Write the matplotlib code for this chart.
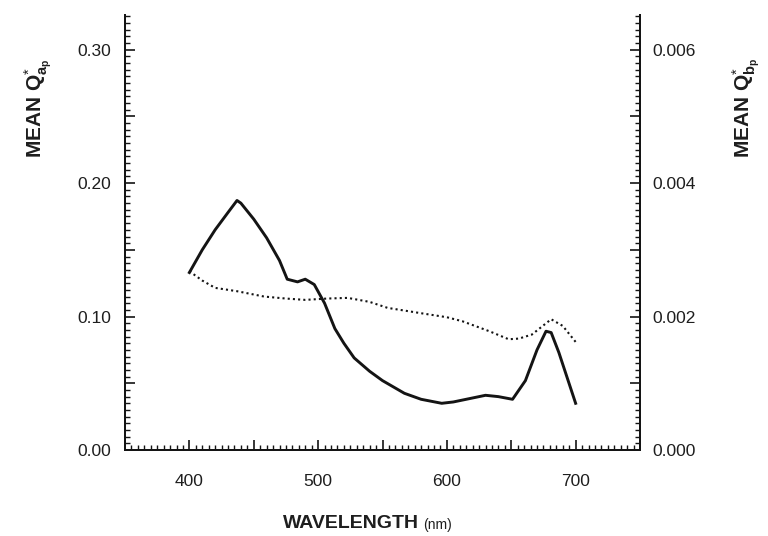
import numpy as np
import matplotlib
matplotlib.use("Agg")
import matplotlib.pyplot as plt
from matplotlib import font_manager
from matplotlib.ticker import MultipleLocator, FuncFormatter

names = {f.name for f in font_manager.fontManager.ttflist}
narrow = 'Liberation Sans Narrow' if 'Liberation Sans Narrow' in names else 'Liberation Sans'

plt.rcParams['font.family'] = ['Liberation Sans', 'DejaVu Sans']
plt.rcParams['mathtext.fontset'] = 'custom'
plt.rcParams['mathtext.rm'] = narrow
plt.rcParams['mathtext.it'] = narrow
plt.rcParams['mathtext.bf'] = narrow + ':bold'

# mean absorption efficiency (left axis)
wl_a = [400, 410, 420, 430, 437, 440, 450, 460, 470, 476, 484, 490, 497,
        505, 513, 520, 528, 540, 550, 567, 580, 596, 605, 615, 630, 640,
        651, 661, 670, 677, 681, 687, 700]
q_a = [0.133, 0.150, 0.165, 0.178, 0.187, 0.185, 0.173, 0.159, 0.142, 0.128,
       0.126, 0.128, 0.124, 0.110, 0.091, 0.080, 0.069, 0.059, 0.052, 0.0425,
       0.038, 0.035, 0.036, 0.038, 0.041, 0.040, 0.038, 0.052, 0.075, 0.089,
       0.088, 0.073, 0.035]

# mean backscattering efficiency (right axis)
wl_b = [400, 410, 420, 437, 458, 475, 490, 507, 523, 540, 554, 580, 600,
        612, 633, 648, 656, 666, 681, 690, 700]
q_b = [0.00268, 0.00254, 0.00243, 0.00238, 0.00230, 0.00227, 0.00225,
       0.00227, 0.00228, 0.00222, 0.00213, 0.00205, 0.00199, 0.00193,
       0.00178, 0.00166, 0.00167, 0.00173, 0.00196, 0.00186, 0.00162]

ink = '#141414'
txt = '#1e1e1e'

fig = plt.figure(figsize=(7.68, 5.36), dpi=100)
ax = fig.add_axes([125/768, 1-450/536, 515/768, 435/536])
ax2 = ax.twinx()

ax.plot(wl_a, q_a, color=ink, lw=2.1, solid_joinstyle='round')
ax2.plot(wl_b, q_b, color=ink, lw=1.5, linestyle=(0, (1, 1.5)))

ymax = 0.326
ax.set_xlim(350, 750)
ax.set_ylim(0, ymax)
ax2.set_ylim(0, ymax/50)

ax.xaxis.set_major_locator(MultipleLocator(50))
ax.xaxis.set_minor_locator(MultipleLocator(5))
ax.xaxis.set_major_formatter(FuncFormatter(
    lambda v, p: f'{v:.0f}' if 400 <= v <= 700 and round(v) % 100 == 0 else ''))

ax.yaxis.set_major_locator(MultipleLocator(0.05))
ax.yaxis.set_minor_locator(MultipleLocator(0.005))
ax.yaxis.set_major_formatter(FuncFormatter(
    lambda v, p: f'{v:.2f}' if round(v*100) % 10 == 0 else ''))

ax2.yaxis.set_major_locator(MultipleLocator(0.001))
ax2.yaxis.set_minor_locator(MultipleLocator(0.0001))
ax2.yaxis.set_major_formatter(FuncFormatter(
    lambda v, p: f'{v:.3f}' if round(v*1000) % 2 == 0 else ''))

for a in (ax, ax2):
    a.spines['top'].set_visible(False)
    for s in a.spines.values():
        s.set_linewidth(1.4)
        s.set_color(ink)

ax.tick_params(axis='x', which='both', direction='in', top=False, colors=ink,
               labelcolor=txt, labelsize=12.5, pad=17)
ax.tick_params(axis='y', which='both', direction='in', right=False, colors=ink,
               labelcolor=txt, labelsize=12.5, pad=10)
ax2.tick_params(axis='y', which='both', direction='in', left=False, colors=ink,
                labelcolor=txt, labelsize=12.5, pad=9)
for a, ax_name in ((ax, 'x'), (ax, 'y'), (ax2, 'y')):
    a.tick_params(axis=ax_name, which='major', length=7, width=1.2)
    a.tick_params(axis=ax_name, which='minor', length=3.5, width=1.0)

fig.text(38/768, 1-108/536, r'$\mathbf{MEAN\ Q}^{*}_{\mathbf{a}_{\mathbf{p}}}$',
         rotation=90, ha='center', va='center', fontsize=15, color=txt)
fig.text(746/768, 1-108/536, r'$\mathbf{MEAN\ Q}^{*}_{\mathbf{b}_{\mathbf{p}}}$',
         rotation=90, ha='center', va='center', fontsize=15, color=txt)
fig.text(419/768, 1-524/536, 'WAVELENGTH', ha='right', va='center',
         fontsize=14, fontweight='bold', family=[narrow, 'DejaVu Sans'], color=txt)
fig.text(423/768, 1-525/536, '(nm)', ha='left', va='center',
         fontsize=10, family=[narrow, 'DejaVu Sans'], color=txt)

fig.savefig('out.png', dpi=100)
